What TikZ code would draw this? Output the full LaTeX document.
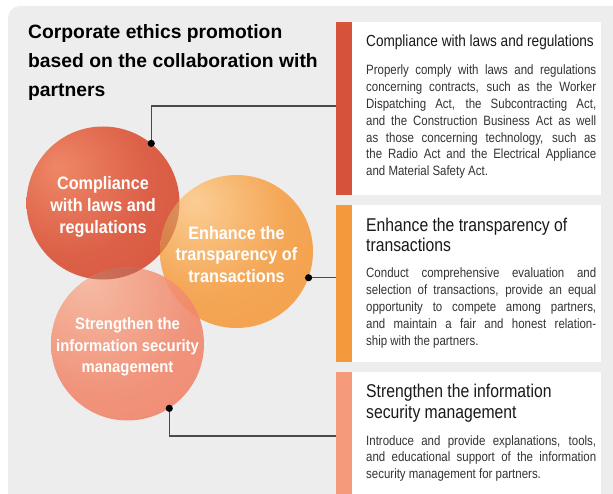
\documentclass[tikz,border=0pt]{standalone}
\usepackage{fontspec}
\setmainfont{Liberation Sans}
\newfontfamily\narrowfont{Liberation Sans}[FakeStretch=0.85]
\newfontfamily\ballfont{Liberation Sans}[FakeStretch=0.9]

\definecolor{panelgray}{HTML}{EDEDED}
\definecolor{lawred}{HTML}{D4503A}
\definecolor{lawlight}{HTML}{EF8767}
\definecolor{dealorange}{HTML}{F39230}
\definecolor{deallight}{HTML}{FDCB8C}
\definecolor{secsalmon}{HTML}{EF785B}
\definecolor{seclight}{HTML}{F8B59B}
\definecolor{lawbar}{HTML}{D6523A}
\definecolor{dealbar}{HTML}{F59A3C}
\definecolor{secbar}{HTML}{F59B7C}
\definecolor{lensdark}{HTML}{9A2E22}
\definecolor{bodytext}{HTML}{333333}
\definecolor{linkgray}{HTML}{4A4A4A}

% ball shadings, highlight up and to the left
\pgfdeclareradialshading{lawball}{\pgfpoint{-15bp}{12bp}}{%
  color(0bp)=(lawlight); color(25bp)=(lawred!70!lawlight);
  color(55bp)=(lawred); color(80bp)=(lawred)}
\pgfdeclareradialshading{dealball}{\pgfpoint{-14bp}{17bp}}{%
  color(0bp)=(deallight); color(25bp)=(dealorange!75!deallight);
  color(55bp)=(dealorange); color(80bp)=(dealorange)}
\pgfdeclareradialshading{secball}{\pgfpoint{-14bp}{22bp}}{%
  color(0bp)=(seclight); color(30bp)=(secsalmon!75!seclight);
  color(60bp)=(secsalmon); color(80bp)=(secsalmon)}

\begin{document}
\begin{tikzpicture}[x=1pt, y=-1pt,
    ball/.style={circle, inner sep=0pt, minimum size=153pt},
    balltext/.style={text=white, align=center, font=\ballfont\bfseries\fontsize{18}{21.7}\selectfont},
    infobox/.style={fill=white, inner sep=0pt, minimum width=265pt, anchor=north west,
      path picture={\fill[#1] (path picture bounding box.north west)
        rectangle ([xshift=16pt]path picture bounding box.south west);}},
    head/.style={anchor=base west, inner sep=0pt, align=left, text=black!90,
      font=\narrowfont\fontsize{18.5}{20.5}\selectfont},
    body/.style={anchor=base west, inner sep=0pt, text width=230pt, align=justify,
      text=bodytext, font=\narrowfont\fontsize{13.5}{16.8}\selectfont},
    link/.style={draw=linkgray, line width=1.2pt},
    dot/.style={fill=black}]
  \useasboundingbox (0,0) rectangle (613,494);

  % grey panel
  \fill[panelgray] (8,505) [rounded corners=12pt] -- (8,6) -- (625,6) [sharp corners] -- (625,505) -- cycle;

  % title (base anchor sits on the last line)
  \node[anchor=base west, inner sep=0pt, align=left,
    font=\bfseries\fontsize{19.3}{29}\selectfont] (title) at (28,97)
    {Corporate ethics promotion\\based on the collaboration with\\partners};

  % three balls
  \node[ball, shading=lawball] (law) at (103,203) {};
  \node[ball, shading=dealball, opacity=0.9] (deal) at (236.5,251.5) {};
  \node[ball, shading=secball, opacity=0.88] (secu) at (127.5,344) {};

  % darker overlaps
  \begin{scope}
    \clip (law.center) circle[radius=76.5pt];
    \fill[lensdark, opacity=0.3] (deal.center) circle[radius=76.5pt];
    \fill[lensdark, opacity=0.45] (secu.center) circle[radius=76.5pt];
  \end{scope}

  \node[balltext] (lawtxt) at ([yshift=-4pt]law.center) {Compliance\\with laws and\\regulations};
  \node[balltext] (dealtxt) at ([yshift=-3pt]deal.center) {Enhance the\\transparency of\\transactions};
  \node[balltext, font=\ballfont\bfseries\fontsize{16.5}{21.7}\selectfont] (secutxt)
    at ([yshift=-3pt]secu.center) {Strengthen the\\information security\\management};

  % boxes on the right
  \node[infobox=lawbar, minimum height=173pt] (box1) at (336,22) {};
  \node[infobox=dealbar, minimum height=157pt] (box2) at (336,205) {};
  \node[infobox=secbar, minimum height=135pt] (box3) at (336,372) {};

  \node[head, font=\narrowfont\fontsize{16}{20}\selectfont] (head1)
    at ([shift={(30,25)}]box1.north west) {Compliance with laws and regulations};
  \node[body] (text1) at ([shift={(30,53)}]box1.north west)
    {Properly comply with laws and regulations\linebreak
     concerning contracts, such as the Worker\linebreak
     Dispatching Act, the Subcontracting Act,\linebreak
     and the Construction Business Act as well\linebreak
     as those concerning technology, such as\linebreak
     the Radio Act and the Electrical Appliance\linebreak
     and Material Safety Act.};

  \node[head] (head2) at ([shift={(30,47)}]box2.north west)
    {Enhance the transparency of\\transactions};
  \node[body] (text2) at ([shift={(30,73)}]box2.north west)
    {Conduct comprehensive evaluation and\linebreak
     selection of transactions, provide an equal\linebreak
     opportunity to compete among partners,\linebreak
     and maintain a fair and honest relation-\linebreak
     ship with the partners.};

  \node[head] (head3) at ([shift={(30,46)}]box3.north west)
    {Strengthen the information\\security management};
  \node[body] (text3) at ([shift={(30,73)}]box3.north west)
    {Introduce and provide explanations, tools,\linebreak
     and educational support of the information\linebreak
     security management for partners.};

  % connectors
  \draw[link] (law.51) |- (box1.west |- 0,106);
  \draw[link] (deal.-20) -- (box2.west |- deal.-20);
  \draw[link] (secu.-57) |- (box3.west |- 0,436);
  \fill[dot] (law.51) circle[radius=3.6pt];
  \fill[dot] (deal.-20) circle[radius=3.6pt];
  \fill[dot] (secu.-57) circle[radius=3.6pt];
\end{tikzpicture}
\end{document}
